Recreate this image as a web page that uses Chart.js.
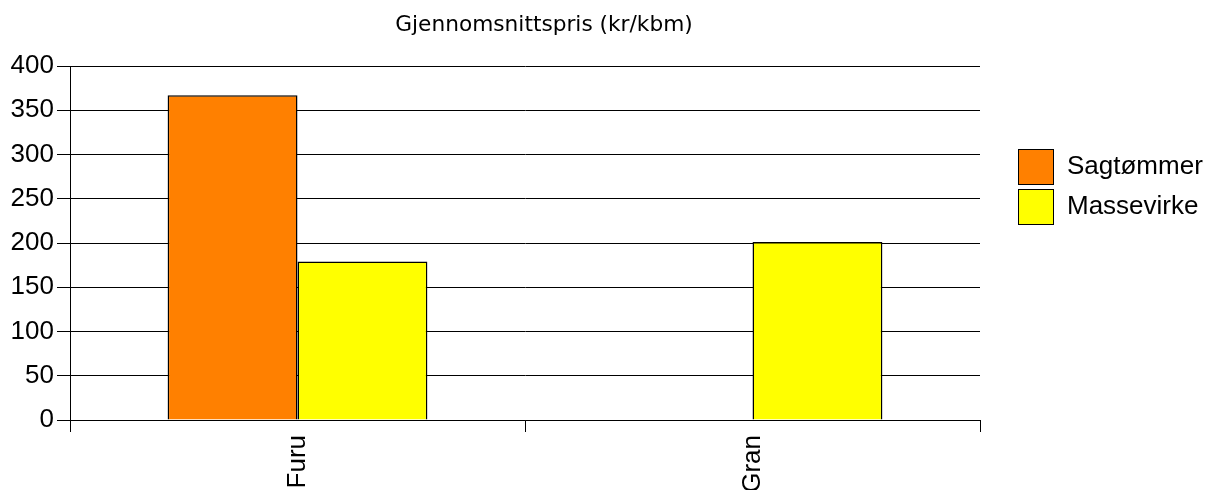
<!DOCTYPE html>
<html>
<head>
<meta charset="utf-8">
<script src="https://cdn.jsdelivr.net/npm/chart.js@4.4.0/dist/chart.umd.min.js"></script>
<style>
  html, body { margin: 0; padding: 0; background: #fff; }
  #wrap { width: 1211px; height: 490px; }
</style>
</head>
<body>
<div id="wrap"><canvas id="priceChart"></canvas></div>
<script>
// data
const categories = ["Furu", "Gran"];
const seriesNames = ["Sagtømmer", "Massevirke"];
const sagtommer = [367, null];
const massevirke = [179, 201];
const chartTitle = "Gjennomsnittspris (kr/kbm)";

const labelFont = { family: "'Liberation Sans', Arial, sans-serif", size: 26 };

// title + legend drawn by hand so they sit where the original has them
const sideLegend = {
  id: "sideLegend",
  afterDraw(chart) {
    const ctx = chart.ctx;
    const area = chart.chartArea;
    ctx.save();
    ctx.fillStyle = "#000";
    ctx.font = "21.7px 'DejaVu Sans', Verdana, sans-serif";
    ctx.textAlign = "center";
    ctx.textBaseline = "alphabetic";
    ctx.fillText(chartTitle, 544, 31);

    ctx.font = "26px 'Liberation Sans', Arial, sans-serif";
    ctx.textAlign = "left";
    ctx.textBaseline = "middle";
    chart.data.datasets.forEach((ds, i) => {
      const x = area.right + 38;
      const y = 149 + i * 40;
      ctx.fillStyle = ds.backgroundColor;
      ctx.fillRect(x, y, 35, 35);
      ctx.strokeStyle = "#000";
      ctx.lineWidth = 1;
      ctx.strokeRect(x + 0.5, y + 0.5, 35, 35);
      ctx.fillStyle = "#000";
      ctx.fillText(ds.label, x + 49, y + 18);
    });
    ctx.restore();
  }
};

new Chart(document.getElementById("priceChart"), {
  type: "bar",
  data: {
    labels: categories,
    datasets: [
      {
        label: seriesNames[0],
        data: sagtommer,
        backgroundColor: "#FF8000",
        borderColor: "#000",
        borderWidth: 1.5
      },
      {
        label: seriesNames[1],
        data: massevirke,
        backgroundColor: "#FFFF00",
        borderColor: "#000",
        borderWidth: 1.5
      }
    ]
  },
  options: {
    responsive: true,
    maintainAspectRatio: false,
    animation: false,
    layout: { padding: { top: 66, right: 231, left: 0, bottom: 0 } },
    datasets: {
      bar: { categoryPercentage: 0.571, barPercentage: 1 }
    },
    plugins: {
      legend: { display: false },
      title: { display: false },
      tooltip: { enabled: false }
    },
    scales: {
      x: {
        grid: {
          offset: true,
          drawOnChartArea: false,
          color: "#000",
          tickLength: 12
        },
        border: { color: "#000" },
        ticks: {
          color: "#000",
          font: labelFont,
          maxRotation: 90,
          minRotation: 90,
          padding: 3
        },
        afterFit(scale) { scale.height = 70; }
      },
      y: {
        min: 0,
        max: 400,
        grid: { color: "#000", tickLength: 13 },
        border: { color: "#000" },
        ticks: {
          stepSize: 50,
          color: "#000",
          font: labelFont,
          padding: 3
        },
        afterFit(scale) { scale.width = 70; }
      }
    }
  },
  plugins: [sideLegend]
});
</script>
</body>
</html>
